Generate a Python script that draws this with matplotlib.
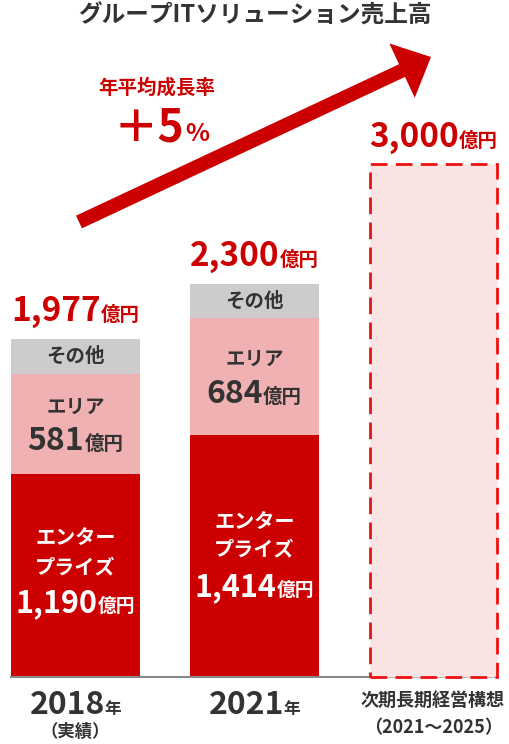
import matplotlib
matplotlib.use('Agg')
import matplotlib.pyplot as plt
from matplotlib.patches import FancyArrow

plt.rcParams['font.family'] = ['Noto Sans CJK JP', 'DejaVu Sans']
plt.rcParams['font.weight'] = 'bold'

# data
years = ['2018', '2021', 'plan']
enterprise = [1190, 1414]
area = [581, 684]
totals = [1977, 2300]
other = [t - e - a for t, e, a in zip(totals, enterprise, area)]
plan_total = 3000
title = 'グループITソリューション売上高'
cagr = '+5'

RED = '#cc0000'
PINK = '#f0b1b2'
GRAY = '#cccccc'
PLAN_FILL = '#f9e3e3'
DARK = '#333333'

fig = plt.figure(figsize=(5.1, 7.44), dpi=100)
ax = fig.add_axes([0, 0, 1, 1])
ax.axis('off')

PX_X = 179.0    # pixels per category
PX_Y = 0.171    # pixels per 億円
ax.set_xlim(-75.5 / PX_X, 2 + 76.5 / PX_X)
ax.set_ylim(-67 / PX_Y, 677 / PX_Y)

xs = [0, 1, 2]
w = 129 / PX_X
ax.bar(xs[:2], enterprise, width=w, color=RED)
ax.bar(xs[:2], area, bottom=enterprise, width=w, color=PINK)
ax.bar(xs[:2], other, bottom=[e + a for e, a in zip(enterprise, area)],
       width=w, color=GRAY)
ax.bar(xs[2], plan_total, width=w - 2 / PX_X, facecolor=PLAN_FILL,
       edgecolor='#ee1111', linewidth=2, linestyle=(0, (6, 3)), zorder=3)
ax.plot([xs[0] - w / 2, xs[2] + w / 2], [0, 0], color='#888888', lw=1.5, zorder=2)


def py(p):
    # pixel offset -> data units
    return p / PX_Y


def num_unit(x, y, num, unit, sn, su, color):
    t1 = ax.text(x, y, num, fontsize=sn, color=color, ha='left', va='baseline')
    t2 = ax.text(x, y, unit, fontsize=su, color=color, ha='left', va='baseline')
    r = fig.canvas.get_renderer()
    w1 = t1.get_window_extent(r).width
    w2 = t2.get_window_extent(r).width
    left = x - (w1 + w2) / 2 / PX_X
    t1.set_x(left)
    t2.set_x(left + w1 / PX_X)


# totals above bars
for x, t in zip(xs[:2], totals):
    num_unit(x, t + py(18), f'{t:,}', '億円', 24, 14, RED)
num_unit(xs[2], plan_total + py(17), f'{plan_total:,}', '億円', 24, 14, RED)

# segment labels
for x, e, a, o in zip(xs[:2], enterprise, area, other):
    ax.text(x, e + a + o / 2, 'その他', fontsize=14, color=DARK, ha='center', va='center')
    mid = e + a / 2
    ax.text(x, mid + py(17), 'エリア', fontsize=14, color=DARK, ha='center', va='center')
    num_unit(x, mid - py(26), f'{a:,}', '億円', 23, 14, DARK)

ax.text(xs[0], py(677 - 538), 'エンター', fontsize=14.5, color='white', ha='center', va='center')
ax.text(xs[0], py(677 - 567), 'プライズ', fontsize=14.5, color='white', ha='center', va='center')
num_unit(xs[0], py(677 - 612), f'{enterprise[0]:,}', '億円', 22, 13.5, 'white')
ax.text(xs[1], py(677 - 522), 'エンター', fontsize=14.5, color='white', ha='center', va='center')
ax.text(xs[1], py(677 - 549), 'プライズ', fontsize=14.5, color='white', ha='center', va='center')
num_unit(xs[1], py(677 - 596), f'{enterprise[1]:,}', '億円', 22, 13.5, 'white')

# x labels
num_unit(xs[0], py(-714 + 677), '2018', '年', 23, 12, DARK)
ax.text(xs[0], py(677 - 732), '（実績）', fontsize=12.5, color=DARK, ha='center', va='center')
num_unit(xs[1], py(-714 + 677), '2021', '年', 23, 12, DARK)
ax.text(xs[2] - 0.005, py(677 - 700), '次期長期経営構想', fontsize=13, color=DARK,
        ha='center', va='center')
ax.text(xs[2], py(677 - 728), '（2021～2025）', fontsize=13, color=DARK,
        ha='center', va='center')

# overlay in pixel coords for title / arrow
ov = fig.add_axes([0, 0, 1, 1])
ov.set_xlim(0, 510)
ov.set_ylim(744, 0)
ov.axis('off')
ov.patch.set_alpha(0)

ov.text(255, 16, title, fontsize=17, color=DARK, ha='center', va='center')
ov.add_patch(FancyArrow(79, 222, 431 - 79, 57 - 222, width=14, head_width=60,
                        head_length=32, length_includes_head=True,
                        color=RED, lw=0))
ov.text(157, 88, '年平均成長率', fontsize=14, color=RED, ha='center', va='center')
t1 = ov.text(114, 141, '＋5', fontsize=32, color=RED, ha='left', va='baseline')
r = fig.canvas.get_renderer()
wpx = t1.get_window_extent(r).width
ov.text(114 + wpx + 1, 141, '%', fontsize=18, color=RED, ha='left', va='baseline')

fig.savefig('out.png', dpi=100)
